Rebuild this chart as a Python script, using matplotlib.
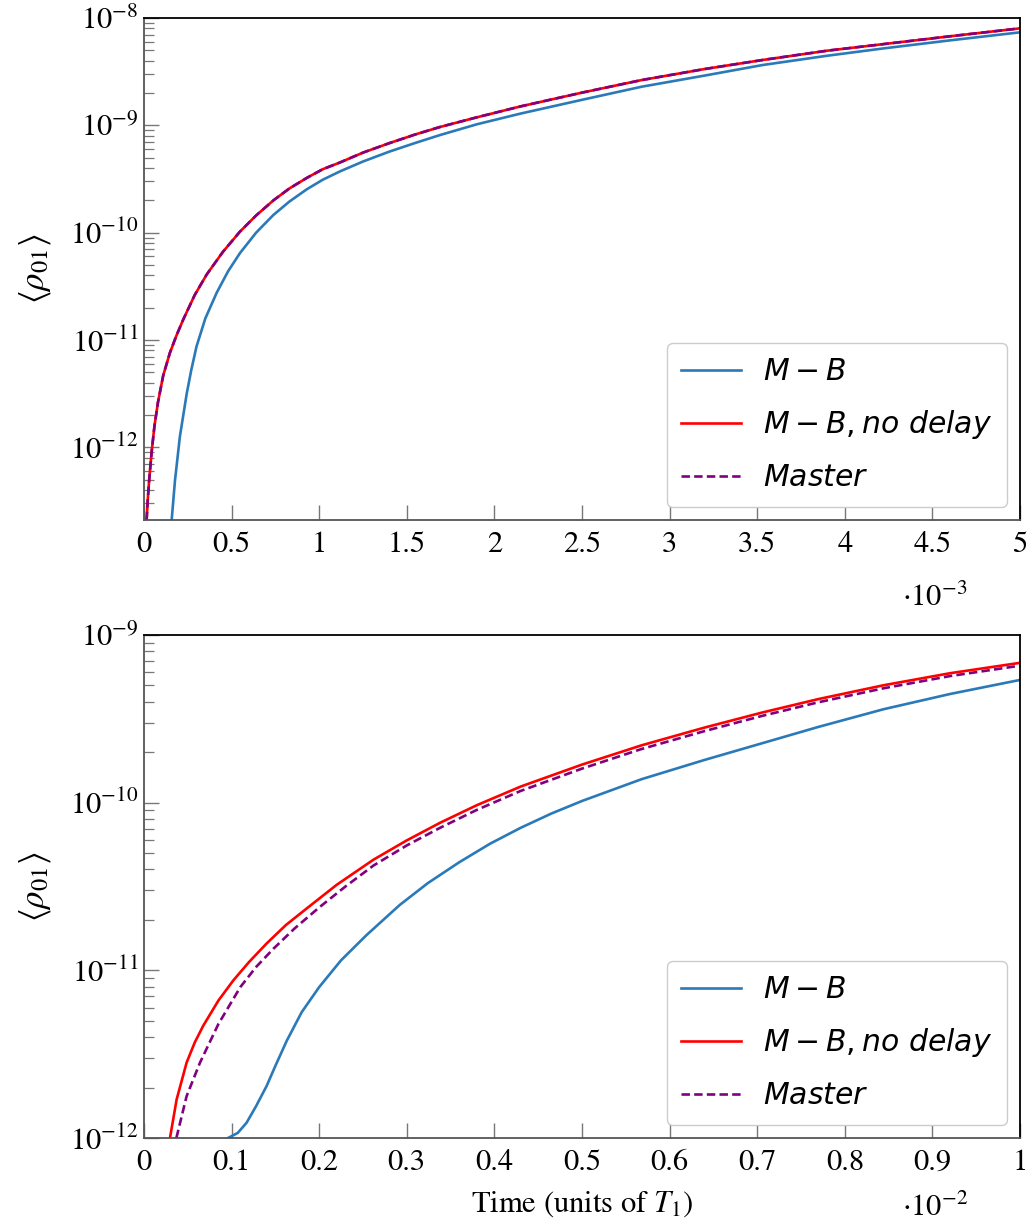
import matplotlib
matplotlib.use("Agg")
import matplotlib.pyplot as plt
import numpy as np
from matplotlib.font_manager import FontProperties
from matplotlib.ticker import FixedLocator, FuncFormatter, LogFormatterMathtext, NullFormatter

plt.rcParams["font.family"] = "STIXGeneral"
plt.rcParams["mathtext.fontset"] = "stix"

# --- top panel (time in units of 1e-3 T1), values are log10(<rho01>) ---
top_nd_t = [0.015, 0.022, 0.03, 0.044, 0.06, 0.08, 0.11, 0.148, 0.185, 0.224, 0.29,
            0.358, 0.45, 0.548, 0.64, 0.738, 0.83, 0.93, 1.02, 1.12, 1.25, 1.40, 1.55,
            1.69, 1.9, 2.15, 2.5, 2.84, 3.2, 3.53, 3.9, 4.22, 4.6, 5.0]
top_nd_log = [-12.68, -12.48, -12.30, -12.04, -11.80, -11.58, -11.33, -11.12, -10.96, -10.81,
              -10.58, -10.39, -10.18, -9.99, -9.84, -9.70, -9.588, -9.489, -9.409, -9.345,
              -9.254, -9.166, -9.084, -9.015, -8.925, -8.823, -8.695, -8.578, -8.475, -8.391,
              -8.304, -8.243, -8.170, -8.096]
top_master_t = top_nd_t
top_master_log = top_nd_log
top_mb_t = [0.158, 0.177, 0.205, 0.244, 0.27, 0.30, 0.35, 0.415, 0.48, 0.548, 0.64,
            0.738, 0.83, 0.93, 1.02, 1.12, 1.25, 1.40, 1.55, 1.69, 1.9, 2.15, 2.5, 2.84,
            3.2, 3.53, 3.9, 4.22, 4.6, 5.0]
top_mb_log = [-12.68, -12.31, -11.90, -11.50, -11.28, -11.06, -10.80, -10.56, -10.36, -10.19,
              -10.0, -9.836, -9.71, -9.595, -9.507, -9.428, -9.337, -9.245, -9.163, -9.09,
              -8.99, -8.89, -8.762, -8.640, -8.536, -8.438, -8.351, -8.283, -8.208, -8.133]

# --- bottom panel (time in units of 1e-2 T1) ---
bot_nd_t = [0.0297, 0.0373, 0.0487, 0.058, 0.0677, 0.085, 0.102, 0.12, 0.14, 0.162,
            0.186, 0.22, 0.262, 0.30, 0.338, 0.38, 0.43, 0.5, 0.568, 0.64, 0.706, 0.77,
            0.844, 0.92, 1.0]
bot_nd_log = [-12.0, -11.77, -11.55, -11.43, -11.33, -11.18, -11.06, -10.95, -10.84, -10.73,
              -10.63, -10.49, -10.34, -10.225, -10.12, -10.015, -9.904, -9.773, -9.658,
              -9.552, -9.462, -9.382, -9.300, -9.228, -9.166]
bot_master_t = [0.037, 0.0487, 0.064, 0.085, 0.11, 0.128, 0.148, 0.172, 0.20, 0.23, 0.262,
                0.30, 0.338, 0.38, 0.43, 0.5, 0.568, 0.64, 0.706, 0.77, 0.844, 0.92, 1.0]
bot_master_log = [-12.0, -11.75, -11.55, -11.32, -11.10, -10.98, -10.87, -10.75, -10.625,
                  -10.50, -10.375, -10.255, -10.15, -10.043, -9.93, -9.797, -9.68, -9.573,
                  -9.482, -9.401, -9.318, -9.245, -9.183]
bot_mb_t = [0.096, 0.107, 0.117, 0.128, 0.14, 0.15, 0.163, 0.18, 0.20, 0.225, 0.254, 0.292,
            0.324, 0.36, 0.395, 0.43, 0.465, 0.5, 0.568, 0.64, 0.706, 0.77, 0.844, 0.92, 1.0]
bot_mb_log = [-12.0, -11.97, -11.91, -11.81, -11.69, -11.57, -11.42, -11.25, -11.10, -10.94,
              -10.79, -10.61, -10.48, -10.355, -10.245, -10.15, -10.065, -9.99, -9.86,
              -9.745, -9.645, -9.548, -9.443, -9.352, -9.268]

labels = [r"$M-B$", r"$M-B, no\ delay$", r"$Master$"]
c_mb = "#2a7ab9"
c_nd = "#ff0000"
c_ms = "#800080"

fig = plt.figure(figsize=(10.32, 12.28), dpi=100)
ax1 = fig.add_axes([0.1395, 0.5765, 0.8489, 0.4088])
ax2 = fig.add_axes([0.1395, 0.0733, 0.8489, 0.4096])

leg_font = FontProperties(family="DejaVu Sans", size=21.5, math_fontfamily="dejavusans")


def style_axis(ax, xticks, ylim):
    ax.set_yscale("log")
    ax.set_xlim(0, xticks[-1])
    ax.set_ylim(*ylim)
    ax.set_xticks(xticks)
    ax.xaxis.set_major_formatter(FuncFormatter(lambda v, p: f"{v:g}"))
    lo, hi = np.log10(ylim[0]), np.log10(ylim[1])
    decades = np.arange(np.floor(lo), np.ceil(hi) + 1)
    major = [10.0 ** d for d in decades if lo - 1e-6 <= d <= hi + 1e-6]
    minor = [m * 10.0 ** d for d in decades for m in range(2, 10)
             if lo <= np.log10(m * 10.0 ** d) <= hi]
    ax.yaxis.set_major_locator(FixedLocator(major))
    ax.yaxis.set_minor_locator(FixedLocator(minor))
    ax.yaxis.set_major_formatter(LogFormatterMathtext())
    ax.yaxis.set_minor_formatter(NullFormatter())
    ax.tick_params(which="both", direction="in", top=False, right=False,
                   labelsize=22, color="#777777")
    ax.tick_params(which="major", length=11, width=1.0)
    ax.tick_params(which="minor", length=7, width=0.9)
    ax.tick_params(axis="x", pad=8)
    ax.tick_params(axis="y", pad=4)
    for side in ["left", "bottom"]:
        ax.spines[side].set_color("#555555")
        ax.spines[side].set_linewidth(1.3)
    for side in ["top", "right"]:
        ax.spines[side].set_color("black")
        ax.spines[side].set_linewidth(1.3)
    ax.set_ylabel(r"$\langle\rho_{01}\rangle$", fontsize=25, labelpad=12)


def draw(ax, mb, nd, ms):
    ax.plot(mb[0], 10.0 ** np.array(mb[1]), color=c_mb, lw=1.9, label=labels[0])
    ax.plot(nd[0], 10.0 ** np.array(nd[1]), color=c_nd, lw=1.9, label=labels[1])
    ax.plot(ms[0], 10.0 ** np.array(ms[1]), color=c_ms, lw=1.9, dashes=(3.2, 1.6),
            label=labels[2])
    ax.legend(loc="lower right", prop=leg_font, frameon=True, fancybox=True,
              edgecolor="#cccccc", framealpha=1.0, handlelength=2.0,
              handletextpad=0.74, labelspacing=0.74, borderaxespad=0.45,
              borderpad=0.48)


draw(ax1, (top_mb_t, top_mb_log), (top_nd_t, top_nd_log), (top_master_t, top_master_log))
style_axis(ax1, [0, 0.5, 1, 1.5, 2, 2.5, 3, 3.5, 4, 4.5, 5], (10 ** -12.678, 1e-8))

draw(ax2, (bot_mb_t, bot_mb_log), (bot_nd_t, bot_nd_log), (bot_master_t, bot_master_log))
style_axis(ax2, [0, 0.1, 0.2, 0.3, 0.4, 0.5, 0.6, 0.7, 0.8, 0.9, 1], (1e-12, 1e-9))

fig.text(935 / 1032, 1 - 598 / 1228, r"$\cdot 10^{-3}$", fontsize=22, ha="center", va="center")
fig.text(935 / 1032, 1 - 1208 / 1228, r"$\cdot 10^{-2}$", fontsize=22, ha="center", va="center")
ax2.set_xlabel(r"Time (units of $T_1$)", fontsize=22, labelpad=9)

fig.savefig("out.png", dpi=100)
